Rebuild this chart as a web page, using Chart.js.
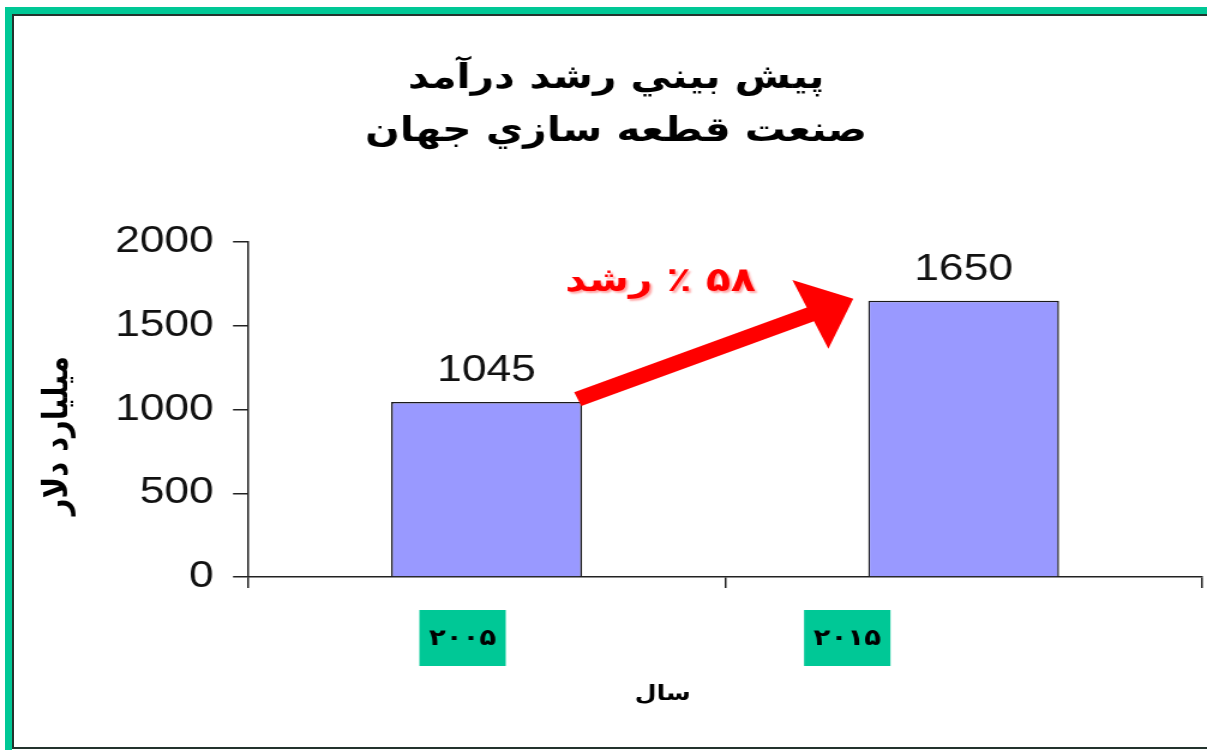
<!DOCTYPE html>
<html lang="fa">
<head>
<meta charset="utf-8">
<title>پيش بيني رشد درآمد</title>
<script src="https://cdn.jsdelivr.net/npm/chart.js@4.4.0/dist/chart.umd.min.js"></script>
<style>
  html, body { margin: 0; padding: 0; background: #fff; overflow: hidden; }
  .frame-green { position: absolute; left: 5px; top: 7px; width: 1400px; height: 900px;
    border: 7px solid #00c896; box-sizing: border-box; }
  .frame-dark { position: absolute; left: 12px; top: 14px; width: 1400px; height: 735px;
    border: 2px solid #23332d; box-sizing: border-box; }
  #chart { position: absolute; left: 0; top: 0; }
</style>
</head>
<body>
<div class="frame-green"></div>
<div class="frame-dark"></div>
<!-- رسم با عرض کمتر و کشیدن افقی، مثل تصویر اصلی -->
<canvas id="chart" width="1006" height="750" style="width:1207px;height:750px"></canvas>
<script>
// داده‌ها
const years = ['۲۰۰۵', '۲۰۱۵'];
const revenue = [1045, 1650];
const yTicks = [0, 500, 1000, 1500, 2000];
const yTickLabels = ['0', '500', '1000', '1500', '2000'];
const titleLines = ['پيش بيني رشد درآمد', 'صنعت قطعه سازي جهان'];
const growthText = '۵۸ ٪ رشد';
const xTitle = 'سال';
const yTitle = 'ميليارد دلار';

const GREEN = '#00c896';
const AXIS = '#222';

// بلجن محلي: برچسب مقدارها، فلش رشد، جعبه سال‌ها و عنوان محورها
const sketchNotesPlugin = {
  id: 'sketchNotes',
  afterDatasetsDraw(chart, args, opts) {
    const { ctx, chartArea, scales: { x } } = chart;
    const bars = chart.getDatasetMeta(0).data;
    ctx.save();

    // مقدار بالای ستون‌ها
    ctx.font = '37px "Liberation Sans", Arial, sans-serif';
    ctx.fillStyle = '#111';
    ctx.textAlign = 'center';
    ctx.textBaseline = 'alphabetic';
    bars.forEach((b, i) => ctx.fillText(String(revenue[i]), b.x, b.y - opts.valueGap));

    // فلش قرمز از ستون اول به ستون دوم
    const a = bars[0], c = bars[1];
    const x0 = a.x + a.width / 2 - 3.5, y0 = a.y - 3;
    const x1 = c.x - c.width / 2 - 12.5, y1 = c.y - 2;
    const len = Math.hypot(x1 - x0, y1 - y0);
    const ux = (x1 - x0) / len, uy = (y1 - y0) / len;
    const nx = -uy, ny = ux;
    const H = opts.headLength, W = opts.headHalf, w = opts.shaftHalf;
    const bx = x1 - ux * H, by = y1 - uy * H;
    ctx.fillStyle = '#ff0000';
    ctx.beginPath();
    ctx.moveTo(x0 + nx * w, y0 + ny * w);
    ctx.lineTo(bx + nx * w, by + ny * w);
    ctx.lineTo(bx + nx * W, by + ny * W);
    ctx.lineTo(x1, y1);
    ctx.lineTo(bx - nx * W, by - ny * W);
    ctx.lineTo(bx - nx * w, by - ny * w);
    ctx.lineTo(x0 - nx * w, y0 - ny * w);
    ctx.closePath();
    ctx.fill();

    // متن رشد
    const mx = (x0 + x1) / 2, my = (y0 + y1) / 2;
    ctx.save();
    ctx.direction = 'rtl';
    ctx.font = 'bold 34px "DejaVu Sans", sans-serif';
    ctx.textAlign = 'center';
    ctx.textBaseline = 'middle';
    ctx.shadowColor = 'rgba(255, 0, 0, 0.35)';
    ctx.shadowOffsetX = 2;
    ctx.shadowOffsetY = 2;
    ctx.shadowBlur = 2;
    ctx.fillStyle = '#ff0000';
    ctx.fillText(growthText, mx + opts.growthShift[0], my + opts.growthShift[1]);
    ctx.restore();

    // جعبه‌های سبز سال‌ها
    ctx.font = 'bold 23px "DejaVu Sans", sans-serif';
    ctx.textAlign = 'center';
    ctx.textBaseline = 'middle';
    years.forEach((label, i) => {
      const cx = x.getPixelForValue(i) + opts.yearShift[i];
      const cy = chartArea.bottom + 61;
      ctx.fillStyle = GREEN;
      ctx.fillRect(cx - 36, cy - 28, 72, 56);
      ctx.fillStyle = '#000';
      ctx.fillText(label, cx, cy + 1);
    });

    // عنوان محور افقی
    const midX = (chartArea.left + chartArea.right) / 2;
    const midY = (chartArea.top + chartArea.bottom) / 2;
    ctx.font = 'bold 21px "DejaVu Sans", sans-serif';
    ctx.fillStyle = '#000';
    ctx.fillText(xTitle, midX + opts.xTitleShift, chartArea.bottom + 118);

    // عنوان محور عمودی
    ctx.font = 'bold 29px "DejaVu Sans", sans-serif';
    ctx.translate(48, midY + opts.yTitleShift);
    ctx.rotate(-Math.PI / 2);
    ctx.fillText(yTitle, 0, 0);

    ctx.restore();
  },
};

const ctx = document.getElementById('chart').getContext('2d');
new Chart(ctx, {
  type: 'bar',
  data: {
    labels: years,
    datasets: [{
      data: revenue,
      backgroundColor: '#9999ff',
      borderColor: '#1a1a1a',
      borderWidth: 1.5,
      barPercentage: 0.4,
      categoryPercentage: 1,
    }],
  },
  plugins: [sketchNotesPlugin],
  options: {
    responsive: false,
    animation: false,
    devicePixelRatio: 1,
    layout: { padding: { left: 25, right: 4, top: 20, bottom: 0 } },
    plugins: {
      legend: { display: false },
      tooltip: { enabled: false },
      title: {
        display: true,
        text: titleLines,
        color: '#000',
        font: { family: 'DejaVu Sans', size: 34, weight: 'bold', lineHeight: 1.56 },
        padding: { top: 33, bottom: 83 },
      },
      sketchNotes: {
        valueGap: 21,
        headLength: 39,
        headHalf: 37.5,
        shaftHalf: 7.5,
        growthShift: [-46, -67],
        yearShift: [-20, -97],
        xTitleShift: -52,
        yTitleShift: 26,
      },
    },
    scales: {
      x: {
        grid: { drawOnChartArea: false, drawTicks: true, tickLength: 11, color: AXIS, lineWidth: 1.5, offset: true },
        border: { color: AXIS, width: 1.6 },
        ticks: { display: false },
        afterFit: (s) => { s.height = 173; },
      },
      y: {
        min: 0,
        max: 2000,
        afterBuildTicks: (s) => { s.ticks = yTicks.map((v) => ({ value: v })); },
        grid: { drawOnChartArea: false, drawTicks: true, tickLength: 12.5, color: AXIS, lineWidth: 1.5 },
        border: { color: AXIS, width: 1.5 },
        ticks: {
          color: '#111',
          padding: 16,
          font: { family: 'Liberation Sans', size: 37 },
          callback: (v) => yTickLabels[yTicks.indexOf(v)],
        },
        afterFit: (s) => { s.width = 181.7; },
      },
    },
  },
});
</script>
</body>
</html>
